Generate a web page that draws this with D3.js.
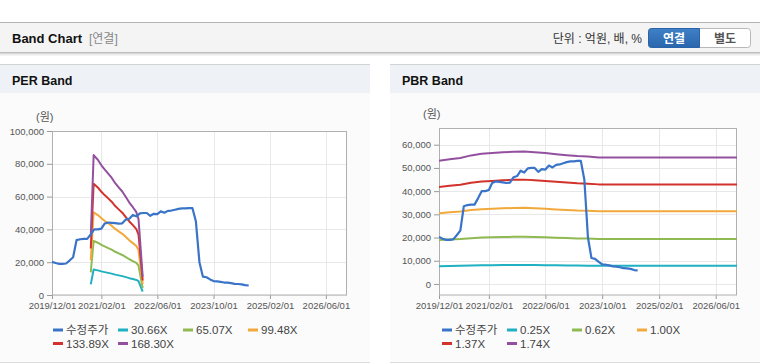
<!DOCTYPE html>
<html><head><meta charset="utf-8">
<script src="https://cdn.jsdelivr.net/npm/d3@7"></script>
<style>
html,body{margin:0;padding:0;background:#fff;}
svg{display:block;font-family:"Liberation Sans",Arial,"Noto Sans CJK KR",sans-serif;}
</style></head><body>
<svg id="c" width="760" height="364"></svg>
<script>
// ---------- DATA ----------
const priceStart = "2019-12-01";
const priceValues = [20300,19500,19000,19000,19200,21000,23000,33500,34000,34200,
  34200,37000,40000,40000,40500,43500,44200,44000,43800,43500,
  43700,46000,46500,48800,48000,49800,50000,50000,48300,49500,
  49300,51000,50200,51300,51500,52000,52500,52800,52800,53000,
  53000,45000,20000,11200,10800,9500,8500,8300,8000,7600,
  7500,7200,6800,6700,6500,6000,5800];

const perDates = ["2020-11-01","2020-11-26","2021-01-01","2021-02-01","2021-03-01","2021-04-01",
  "2021-05-01","2021-06-01","2021-07-01","2021-08-01","2021-09-01","2021-10-01",
  "2021-11-01","2021-12-01","2021-12-20","2022-01-25"];
const per3066  = [6500,15545,15023,14410,13950,13490,13030,12417,11957,11498,10884,10271,9750,9198,8432,2024];
const per6507  = [13795,32990,31884,30583,29607,28631,27655,26353,25377,24401,23100,21798,20692,19521,17894,4295];
const per9948  = [21090,50436,48745,46756,45263,43771,42279,40289,38797,37305,35315,33326,31635,29844,27357,6566];
const per13389 = [28385,67882,65606,62928,60920,58912,56903,54225,52217,50209,47531,44853,42577,40167,36820,8837];
const per16830 = [35680,85328,82467,79101,76577,74052,71528,68162,65637,63113,59747,56381,53519,50490,46283,11108];

const pbrDates = ["2019-12-01","2020-03-01","2020-06-01","2020-09-01","2020-12-01","2021-03-01",
  "2021-06-01","2021-09-01","2021-12-01","2022-03-01","2022-06-01","2022-09-01",
  "2022-12-01","2023-03-01","2023-06-01","2023-09-01","2023-12-01","2026-12-01"];
const pbr025 = [7629,7716,7802,7960,8060,8104,8147,8190,8204,8161,8104,8032,7974,7917,7888,7831,7831,7831];
const pbr062 = [18921,19134,19348,19740,19989,20097,20203,20311,20346,20239,20097,19918,19776,19634,19562,19420,19420,19420];
const pbr100 = [30517,30862,31207,31839,32241,32414,32586,32759,32816,32644,32414,32126,31897,31667,31552,31322,31322,31322];
const pbr137 = [41808,42281,42754,43619,44170,44407,44643,44880,44958,44722,44407,44013,43699,43384,43226,42911,42911,42911];
const pbr174 = [53100,53700,54300,55400,56100,56400,56700,57000,57100,56800,56400,55900,55500,55100,54900,54500,54500,54500];

const xTickLabels = ["2019/12/01","2021/02/01","2022/06/01","2023/10/01","2025/02/01","2026/06/01"];
const perYTicks = [0,20000,40000,60000,80000,100000];
const pbrYTicks = [0,10000,20000,30000,40000,50000,60000];
const perLegend = ["수정주가","30.66X","65.07X","99.48X","133.89X","168.30X"];
const pbrLegend = ["수정주가","0.25X","0.62X","1.00X","1.37X","1.74X"];
const colors = ["#3a74c8","#1fb0c2","#8fba52","#f2a93c","#d2322b","#93509e"];

// ---------- HELPERS ----------
const svg = d3.select("#c");
const parse = d3.utcParse("%Y-%m-%d");
const parseSlash = d3.utcParse("%Y/%m/%d");
const priceDates = priceValues.map((v,i)=>d3.utcMonth.offset(parse(priceStart), i));

// ---------- PAGE CHROME ----------
svg.append("rect").attr("x",0).attr("y",22).attr("width",760).attr("height",31).attr("fill","#f4f4f4");
svg.append("line").attr("x1",0).attr("x2",760).attr("y1",22.5).attr("y2",22.5).attr("stroke","#b4b4b4");
[["#bdbdbd",1],["#d8d8d8",0.8],["#ebebeb",0.6],["#f5f5f5",0.5]].forEach((s,i)=>{
  svg.append("line").attr("x1",0).attr("x2",760).attr("y1",52.5+i).attr("y2",52.5+i).attr("stroke",s[0]);
});
svg.append("text").attr("x",12).attr("y",43).attr("font-size",13).attr("font-weight","bold").attr("fill","#111").text("Band Chart");
svg.append("text").attr("x",89).attr("y",43).attr("font-size",12).attr("fill","#888").text("[연결]");
svg.append("text").attr("x",642).attr("y",43).attr("text-anchor","end").attr("font-size",12).attr("fill","#333").text("단위 : 억원, 배, %");
const grad = svg.append("defs").append("linearGradient").attr("id","btn").attr("x1",0).attr("x2",0).attr("y1",0).attr("y2",1);
grad.append("stop").attr("offset","0").attr("stop-color","#3f80c6");
grad.append("stop").attr("offset","1").attr("stop-color","#2a66ad");
svg.append("rect").attr("x",648.5).attr("y",28.5).attr("width",102).attr("height",19).attr("rx",3).attr("fill","#fff").attr("stroke","#b8b8b8");
svg.append("path").attr("d","M651.5,28.5 H699.5 V47.5 H651.5 Q648.5,47.5 648.5,44.5 V31.5 Q648.5,28.5 651.5,28.5 Z").attr("fill","url(#btn)").attr("stroke","#2a63a8");
svg.append("text").attr("x",674).attr("y",42.5).attr("text-anchor","middle").attr("font-size",12).attr("font-weight","bold").attr("fill","#fff").text("연결");
svg.append("text").attr("x",725).attr("y",42.5).attr("text-anchor","middle").attr("font-size",12).attr("font-weight","bold").attr("fill","#555").text("별도");

// ---------- PANEL ----------
function panel(cfg){
  const g = svg.append("g");
  g.append("rect").attr("x",cfg.px).attr("y",64).attr("width",cfg.pw).attr("height",298).attr("fill","#fbfbfb");
  g.append("rect").attr("x",cfg.px).attr("y",64).attr("width",cfg.pw).attr("height",29).attr("fill","#eef2f7");
  g.append("line").attr("x1",cfg.px).attr("x2",cfg.px+cfg.pw).attr("y1",64.5).attr("y2",64.5).attr("stroke","#d2d2d2");
  g.append("line").attr("x1",cfg.px).attr("x2",cfg.px+cfg.pw).attr("y1",362.5).attr("y2",362.5).attr("stroke","#dcdcdc");
  g.append("text").attr("x",cfg.px+12).attr("y",84.5).attr("font-size",12.5).attr("font-weight","bold").attr("fill","#111").text(cfg.title);

  const x = d3.scaleUtc().domain([parse("2019-12-01"), parse("2026-12-01")]).range([cfg.x0, cfg.x1]);
  const y = d3.scaleLinear().domain(cfg.yDomain).range([295, cfg.yTop]);

  g.append("rect").attr("x",cfg.x0).attr("y",cfg.yTop).attr("width",cfg.x1-cfg.x0).attr("height",295-cfg.yTop).attr("fill","#fff");
  const xt = xTickLabels.map(s=>parseSlash(s));
  // grid
  g.append("g").selectAll("line.h").data(cfg.yTicks).join("line")
    .attr("x1",cfg.x0).attr("x2",cfg.x1).attr("y1",d=>Math.round(y(d))+0.5).attr("y2",d=>Math.round(y(d))+0.5).attr("stroke","#e8e8e8");
  g.append("g").selectAll("line.v").data(xt).join("line")
    .attr("x1",d=>Math.round(x(d))+0.5).attr("x2",d=>Math.round(x(d))+0.5).attr("y1",cfg.yTop).attr("y2",295).attr("stroke","#e8e8e8");
  // axes
  const yAxis = d3.axisLeft(y).tickValues(cfg.yTicks).tickSize(5).tickPadding(3).tickFormat(d3.format(","));
  const ya = g.append("g").attr("transform",`translate(${cfg.x0},0)`).call(yAxis);
  const xAxis = d3.axisBottom(x).tickValues(xt).tickSize(4).tickPadding(3).tickFormat((d,i)=>xTickLabels[i]);
  const xa = g.append("g").attr("transform","translate(0,295)").call(xAxis);
  [ya,xa].forEach(a=>{
    a.select(".domain").remove();
    a.selectAll(".tick line").attr("stroke","#9a9a9a");
    a.selectAll(".tick text").attr("fill","#555").attr("font-size",9.5).attr("font-family","Liberation Sans, Arial, sans-serif");
  });
  g.append("rect").attr("x",cfg.x0+0.5).attr("y",cfg.yTop+0.5).attr("width",cfg.x1-cfg.x0-1).attr("height",295-cfg.yTop-0.5)
    .attr("fill","none").attr("stroke","#b0b0b0");
  g.append("text").attr("x",cfg.x0-16).attr("y",cfg.yTop-10).attr("font-size",11).attr("fill","#555").text("(원)");

  const line = d3.line().x(d=>x(d[0])).y(d=>y(d[1]));
  const clip = "clip"+cfg.title.replace(/\s/g,"");
  g.append("clipPath").attr("id",clip).append("rect").attr("x",cfg.x0).attr("y",cfg.yTop).attr("width",cfg.x1-cfg.x0).attr("height",295-cfg.yTop);
  const lg = g.append("g").attr("clip-path",`url(#${clip})`);
  cfg.bands.forEach((b,i)=>{
    lg.append("path").attr("d",line(cfg.bandDates.map((d,j)=>[parse(d),b[j]])))
      .attr("fill","none").attr("stroke",colors[i+1]).attr("stroke-width",2).attr("stroke-linejoin","round");
  });
  lg.append("path").attr("d",line(priceDates.map((d,j)=>[d,priceValues[j]])))
    .attr("fill","none").attr("stroke",colors[0]).attr("stroke-width",2.2).attr("stroke-linejoin","round");

  // legend
  cfg.legend.forEach((t,i)=>{
    const lx = cfg.legX + (i%4)*65, ly = 330 + Math.floor(i/4)*13.5;
    g.append("line").attr("x1",lx).attr("x2",lx+10).attr("y1",ly).attr("y2",ly).attr("stroke",colors[i]).attr("stroke-width",3);
    g.append("text").attr("x",lx+13).attr("y",ly+4).attr("font-size",11.5).attr("fill","#444").text(t);
  });
}

panel({px:0,pw:370,title:"PER Band",x0:52,x1:347,yTop:131,yDomain:[0,100000],yTicks:perYTicks,
  bandDates:perDates,bands:[per3066,per6507,per9948,per13389,per16830],legend:perLegend,legX:53});
panel({px:390,pw:370,title:"PBR Band",x0:439,x1:737,yTop:128,yDomain:[-4750,67200],yTicks:pbrYTicks,
  bandDates:pbrDates,bands:[pbr025,pbr062,pbr100,pbr137,pbr174],legend:pbrLegend,legX:442});
</script>
</body></html>
